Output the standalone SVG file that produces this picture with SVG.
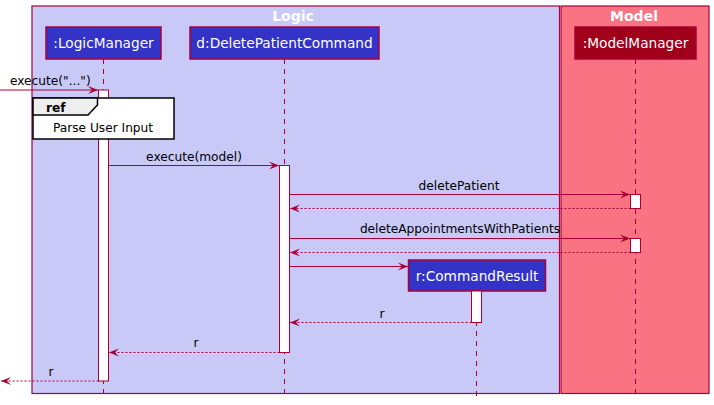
<svg xmlns="http://www.w3.org/2000/svg" width="714" height="405" viewBox="0 0 714 405">
<style>
text{font-family:"DejaVu Sans","Liberation Sans",sans-serif;font-size:12.2px;fill:#000}
.box{stroke:#A80036;stroke-width:1.5}
.pt{fill:#fff;text-anchor:middle;font-size:13.7px}
.title{fill:#fff;font-weight:bold;font-size:14px;text-anchor:middle}
.life{stroke:#A80036;stroke-width:1;stroke-dasharray:5,5;fill:none}
.act{fill:#fff;stroke:#A80036;stroke-width:1}
.msg{stroke:#A80036;stroke-width:1;fill:none}
.ret{stroke:#A80036;stroke-width:1;stroke-dasharray:2,2;fill:none}
.ml{text-anchor:middle}
</style>
<defs>
<marker id="ah" markerWidth="11" markerHeight="9" refX="10" refY="4.5" orient="auto" markerUnits="userSpaceOnUse">
<polygon points="0,0.5 10,4.5 0,8.5 4,4.5" fill="#A80036"/>
</marker>
</defs>
<g id="logic-group">
<rect x="32" y="6" width="527.5" height="387.5" fill="#C9C9F8" stroke="#A80036" stroke-width="1.2"/>
<text class="title" x="293" y="21">Logic</text>
</g>
<g id="model-group">
<rect x="561" y="6" width="148" height="387.5" fill="#FA7382" stroke="#A80036" stroke-width="1.2"/>
<text class="title" x="634" y="21">Model</text>
</g>
<g id="lifelines">
<line class="life" x1="103.5" y1="59" x2="103.5" y2="396"/>
<line class="life" x1="284.5" y1="59" x2="284.5" y2="396"/>
<line class="life" x1="635.5" y1="59" x2="635.5" y2="396"/>
<line class="life" x1="476.5" y1="291" x2="476.5" y2="396"/>
</g>
<g id="LogicManager">
<rect class="box" x="46" y="27" width="115" height="32" fill="#3333C8"/>
<text class="pt" x="103.5" y="48">:LogicManager</text>
<rect class="act" x="98.5" y="90" width="10" height="291"/>
</g>
<g id="DeletePatientCommand">
<rect class="box" x="190" y="27" width="189" height="32" fill="#3333C8"/>
<text class="pt" x="284.5" y="48">d:DeletePatientCommand</text>
<rect class="act" x="279.5" y="165.5" width="10" height="187"/>
</g>
<g id="ModelManager">
<rect class="box" x="575" y="27" width="121" height="32" fill="#A0001A" stroke="#D04060"/>
<text class="pt" x="635.5" y="48">:ModelManager</text>
<rect class="act" x="630.5" y="194.5" width="10" height="14"/>
<rect class="act" x="630.5" y="238.5" width="10" height="14"/>
</g>
<g id="CommandResult">
<rect class="box" x="408.5" y="260" width="137" height="31" fill="#3333C8"/>
<text class="pt" x="477" y="281">r:CommandResult</text>
<rect class="act" x="471.5" y="291" width="10" height="31.5"/>
</g>
<g id="ref">
<rect x="33" y="98" width="141" height="41" fill="#fff" stroke="#000" stroke-width="1.5"/>
<polygon points="33,98 97.5,98 97.5,105 88,115 33,115" fill="#EEEEEE" stroke="#000" stroke-width="1.5"/>
<text x="46" y="112" font-weight="bold">ref</text>
<text x="103" y="132" class="ml">Parse User Input</text>
</g>
<g id="connectors">
<line class="msg" x1="0" y1="90" x2="98" y2="90" marker-end="url(#ah)"/>
<text x="10" y="85">execute("...")</text>
<line class="msg" x1="108.5" y1="165.5" x2="279" y2="165.5" marker-end="url(#ah)"/>
<text class="ml" x="194" y="161">execute(model)</text>
<line class="msg" x1="289.5" y1="194.5" x2="630" y2="194.5" marker-end="url(#ah)"/>
<text class="ml" x="459" y="190">deletePatient</text>
<line class="ret" x1="630.5" y1="208.5" x2="290" y2="208.5" marker-end="url(#ah)"/>
<line class="msg" x1="289.5" y1="238.5" x2="630" y2="238.5" marker-end="url(#ah)"/>
<text class="ml" x="460" y="233">deleteAppointmentsWithPatients</text>
<line class="ret" x1="630.5" y1="252.5" x2="290" y2="252.5" marker-end="url(#ah)"/>
<line class="msg" x1="289.5" y1="266.5" x2="408" y2="266.5" marker-end="url(#ah)"/>
<line class="ret" x1="471.5" y1="322.5" x2="290" y2="322.5" marker-end="url(#ah)"/>
<text class="ml" x="382" y="318">r</text>
<line class="ret" x1="279.5" y1="352.5" x2="109" y2="352.5" marker-end="url(#ah)"/>
<text class="ml" x="196" y="347">r</text>
<line class="ret" x1="98.5" y1="381" x2="1" y2="381" marker-end="url(#ah)"/>
<text class="ml" x="51" y="376">r</text>
</g>
</svg>
